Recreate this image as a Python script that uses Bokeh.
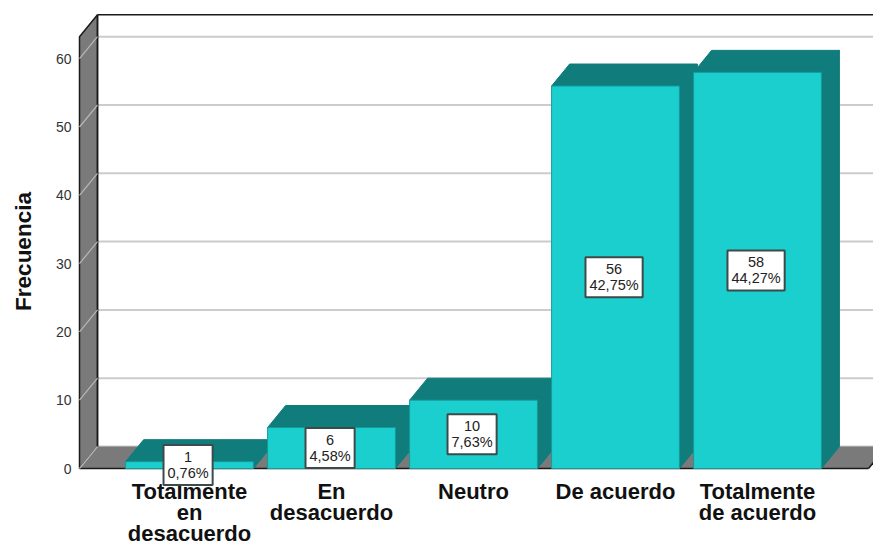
from bokeh.plotting import figure
from bokeh.embed import file_html
from bokeh.resources import INLINE
from bokeh.models import Range1d, FixedTicker, Label

categories = ["Totalmente\nen\ndesacuerdo", "En\ndesacuerdo", "Neutro", "De acuerdo", "Totalmente\nde acuerdo"]
counts = [1, 6, 10, 56, 58]
percents = ["0,76%", "4,58%", "7,63%", "42,75%", "44,27%"]
y_ticks = [0, 10, 20, 30, 40, 50, 60]
y_label = "Frecuencia"

FONT = "Liberation Sans"
FRONT = "#1bcfcf"
SIDE = "#107c7c"
WALL = "#7a7a7a"
GRID = "#cccccc"
EDGE = "#1a1a1a"

X_PER = 142.0      # pixels per category
Y_PER = 6.83       # pixels per unit of frequency
HALF = 0.45        # half of bar width, in categories
DX = 18 / X_PER    # depth offset
DY = 22 / Y_PER
WALL_TOP = 63.2

x_left = 1 - (189 - 76) / X_PER
x_right = 1 + (873 - 189) / X_PER
y_bottom = -(502 - 468) / Y_PER
y_top = 468 / Y_PER
floor_right = 1 + (868 - 189) / X_PER
x0 = 1 - 110 / X_PER

p = figure(width=873, height=545, output_backend="svg", toolbar_location=None,
           frame_width=797, frame_height=502,
           x_range=Range1d(x_left, x_right), y_range=Range1d(y_bottom, y_top),
           min_border_left=76, min_border_right=0, min_border_top=0, min_border_bottom=43,
           outline_line_color=None, background_fill_color="white", border_fill_color="white")
p.grid.visible = False

# axes
xs = list(range(1, len(categories) + 1))
p.xaxis.ticker = FixedTicker(ticks=xs)
p.xaxis.major_label_overrides = {i: c for i, c in zip(xs, categories)}
p.xaxis.major_label_text_font = FONT
p.xaxis.major_label_text_font_style = "bold"
p.xaxis.major_label_text_font_size = "22px"
p.xaxis.major_label_text_color = "#111111"
p.xaxis.major_label_text_line_height = 0.85
p.xaxis.major_label_standoff = -24
p.xaxis.axis_line_color = None
p.xaxis.major_tick_line_color = None
p.xaxis.minor_tick_line_color = None
p.xaxis.major_tick_in = 0
p.xaxis.major_tick_out = 0

p.yaxis.ticker = FixedTicker(ticks=y_ticks)
p.yaxis.major_label_text_font = FONT
p.yaxis.major_label_text_font_size = "14px"
p.yaxis.major_label_text_color = "#333333"
p.yaxis.major_label_standoff = 5
p.yaxis.axis_line_color = None
p.yaxis.major_tick_line_color = None
p.yaxis.minor_tick_line_color = None
p.yaxis.major_tick_in = 0
p.yaxis.major_tick_out = 0
p.yaxis.axis_label = y_label
p.yaxis.axis_label_text_font = FONT
p.yaxis.axis_label_text_font_style = "bold"
p.yaxis.axis_label_text_font_size = "22.5px"
p.yaxis.axis_label_text_color = "#111111"
p.yaxis.axis_label_standoff = 17

# back wall grid
p.segment(x0=[x0 + DX] * len(y_ticks), y0=[v + DY for v in y_ticks],
          x1=[x_right] * len(y_ticks), y1=[v + DY for v in y_ticks],
          line_color=GRID, line_width=2)

# left wall and floor
p.patch([x0, x0 + DX, x0 + DX, x0], [0, DY, WALL_TOP + DY, WALL_TOP],
        fill_color=WALL, line_color=EDGE, line_width=1.5)
p.patch([x0, x0 + DX, floor_right + DX, floor_right], [0, DY, DY, 0],
        fill_color=WALL, line_color=None)
p.segment(x0=[x0, x0 + DX], y0=[0, DY], x1=[floor_right, x0 + DX], y1=[0, WALL_TOP + DY],
          line_color=EDGE, line_width=1.5)
p.segment(x0=[x0 + DX], y0=[WALL_TOP + DY], x1=[x_right], y1=[WALL_TOP + DY],
          line_color=EDGE, line_width=1.5)
p.segment(x0=[floor_right], y0=[0], x1=[floor_right + DX], y1=[DY],
          line_color=EDGE, line_width=1.5)
# wall grid lines
p.segment(x0=[x0] * len(y_ticks), y0=y_ticks,
          x1=[x0 + DX] * len(y_ticks), y1=[v + DY for v in y_ticks],
          line_color="#b8b8b8", line_width=1.2)

# bars
for x, v in zip(xs, counts):
    l, r = x - HALF, x + HALF
    p.patch([l, l + DX, r + DX, r], [v, v + DY, v + DY, v],
            fill_color=SIDE, line_color=SIDE, line_width=1)
    p.patch([r, r + DX, r + DX, r], [0, DY, v + DY, v],
            fill_color=SIDE, line_color=SIDE, line_width=1)
    p.quad(left=[l], right=[r], bottom=[0], top=[v],
           fill_color=FRONT, line_color="#159a9a", line_width=1)

# value boxes
for x, v, pct in zip(xs, counts, percents):
    p.add_layout(Label(x=x - 0.01, y=v / 2, text=f"{v}\n{pct}", text_align="center",
                       text_baseline="middle", text_font=FONT, text_font_size="14.5px",
                       text_color="#222222", text_line_height=1.0,
                       background_fill_color="white", border_line_color="#3c4a4a",
                       border_line_width=2, padding=4))

open("out.html", "w").write(file_html(p, INLINE))
